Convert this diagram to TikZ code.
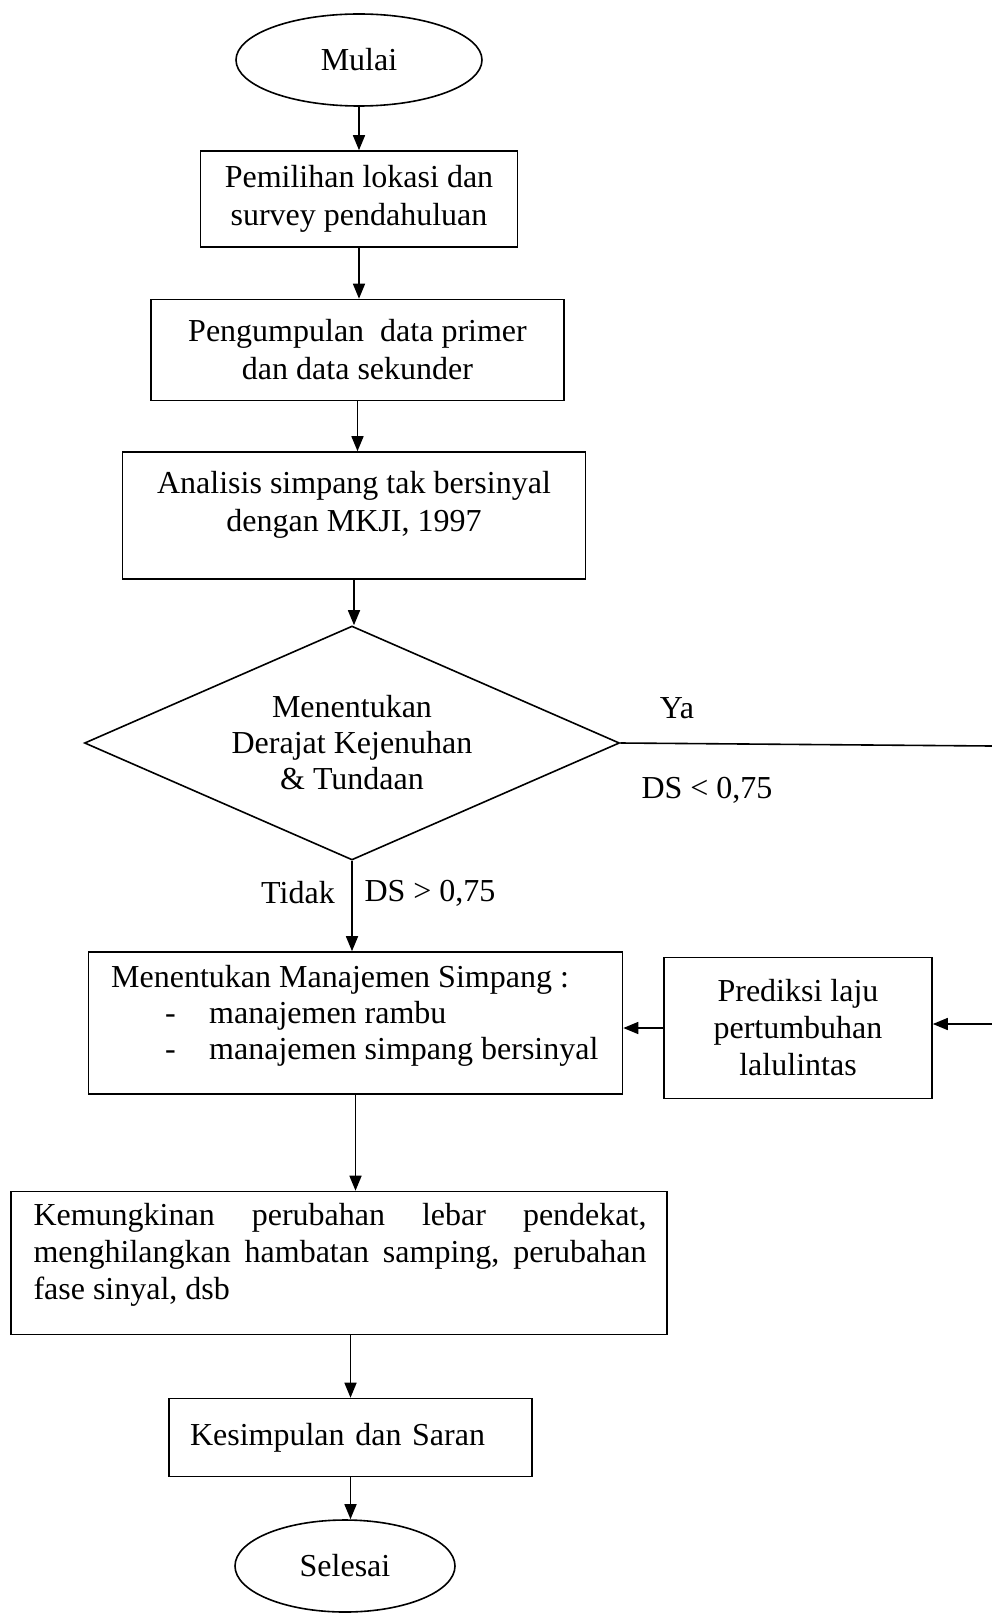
\documentclass[tikz,border=0pt]{standalone}
\usepackage{fontspec}
\setmainfont{Liberation Serif}
\usetikzlibrary{shapes.geometric,arrows.meta,calc}
\begin{document}
\begin{tikzpicture}[x=1pt,y=-1pt,
  every node/.style={font=\fontsize{32}{38}\selectfont},
  box/.style={draw,line width=1.6pt,rectangle,inner sep=0pt,align=center},
  term/.style={draw,line width=1.6pt,ellipse,inner sep=0pt},
  arr/.style={line width=1.6pt,-{Triangle[length=15pt,width=12pt]}},
  ln/.style={line width=1.6pt},
  lbl/.style={inner sep=0pt}]
\useasboundingbox (0,0) rectangle (992,1613);

\node[term,minimum width=246pt,minimum height=92pt] (start) at (359,60) {Mulai};
\node[box,minimum width=317pt,minimum height=96pt] (b1) at (359,199) {Pemilihan lokasi dan\\survey pendahuluan};
\node[box,minimum width=413pt,minimum height=101pt] (b2) at (357.5,350) {Pengumpulan\ \ data primer\\dan data sekunder};
\node[box,minimum width=463pt,minimum height=127pt] (b3) at (354,515.5) {};
\node[lbl,align=center] (b3t) at (354,505) {Analisis simpang tak bersinyal\\dengan MKJI, 1997};
\node[draw,line width=1.6pt,diamond,aspect=2.28,minimum width=535pt,minimum height=234pt,inner sep=0pt,align=center,font=\fontsize{32}{36}\selectfont] (dia) at (352,743) {Menentukan\\Derajat Kejenuhan\\\& Tundaan};

\coordinate (yaend) at (992,746);
\node[lbl] (ya) at (677,708) {Ya};
\node[lbl] (dslt) at (707,790) {DS < 0,75};
\node[lbl] (tidak) at (298,893) {Tidak};
\node[lbl] (dsgt) at (430,893) {DS > 0,75};

\node[box,minimum width=534pt,minimum height=142pt] (mg) at (355.5,1023) {};
\node[lbl,anchor=west,align=left,font=\fontsize{32}{36}\selectfont] (mgt) at (111,1016)
  {Menentukan Manajemen Simpang :\\
   \makebox[98pt][l]{\hspace*{54pt}-}manajemen rambu\\
   \makebox[98pt][l]{\hspace*{54pt}-}manajemen simpang bersinyal};
\node[box,minimum width=268pt,minimum height=141pt,font=\fontsize{32}{37}\selectfont] (pred) at (798,1028) {Prediksi laju\\pertumbuhan\\lalulintas};
\coordinate (predin) at (992,1024);

\node[box,minimum width=656pt,minimum height=143pt] (kem) at (339,1263) {};
\node[lbl,align=left,font=\fontsize{32}{37}\selectfont] (kemt) at (340,1255)
  {\makebox[613pt][l]{Kemungkinan\hfill perubahan\hfill lebar\hfill pendekat,}\\
   \makebox[613pt][l]{menghilangkan\hfill hambatan\hfill samping,\hfill perubahan}\\
   \makebox[613pt][l]{fase sinyal, dsb}};
\node[box,minimum width=363pt,minimum height=78pt,text width=321pt,inner xsep=21pt,align=left] (kes) at (350.5,1437.5) {Kesimpulan dan Saran};
\node[term,minimum width=220pt,minimum height=92pt] (sel) at (345,1566) {Selesai};

\draw[arr] (start.south) -- (start.south |- b1.north);
\draw[arr] (b1.south) -- (b1.south |- b2.north);
\draw[arr] (b2.south) -- (b2.south |- b3.north);
\draw[arr] (b3.south) -- (b3.south |- dia.north);
\draw[ln] (dia.east) -- (yaend);
\draw[arr] (dia.south) -- (dia.south |- mg.north);
\draw[arr] (predin) -- (predin -| pred.east);
\draw[arr] (pred.west) -- (pred.west -| mg.east);
\draw[arr] (mg.south) -- (mg.south |- kem.north);
\draw[arr] (kes.north |- kem.south) -- (kes.north);
\draw[arr] (kes.south) -- (kes.south |- sel.north);
\end{tikzpicture}
\end{document}
